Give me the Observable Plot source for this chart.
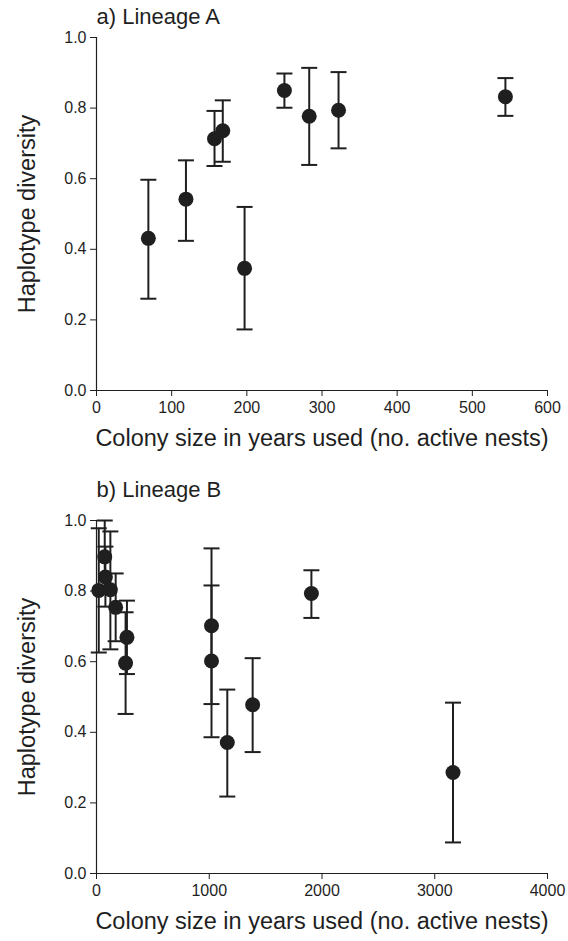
<!DOCTYPE html>
<html>
<head>
<meta charset="utf-8">
<script src="https://cdn.jsdelivr.net/npm/d3@7"></script>
<script src="https://cdn.jsdelivr.net/npm/@observablehq/plot@0.6"></script>
<style>
  html, body { margin: 0; padding: 0; background: #fff; }
  #chart { width: 568px; }
  #chart svg { display: block; }
</style>
</head>
<body>
<div id="chart"></div>
<script>
// Panel A — Lineage A
const aColony = [69, 119, 157, 168, 197, 250, 283, 322, 544];
const aHap    = [0.431, 0.542, 0.713, 0.736, 0.346, 0.850, 0.777, 0.794, 0.832];
const aLow    = [0.260, 0.424, 0.636, 0.648, 0.173, 0.801, 0.639, 0.686, 0.778];
const aHigh   = [0.597, 0.652, 0.792, 0.822, 0.520, 0.898, 0.914, 0.902, 0.885];

// Panel B — Lineage B
const bColony = [20, 73, 79, 123, 170, 270, 258, 1020, 1020, 1160, 1385, 1906, 3162];
const bHap    = [0.802, 0.897, 0.840, 0.804, 0.754, 0.669, 0.596, 0.702, 0.602, 0.371, 0.478, 0.793, 0.286];
const bLow    = [0.626, 0.794, 0.756, 0.635, 0.658, 0.565, 0.452, 0.480, 0.386, 0.218, 0.344, 0.724, 0.088];
const bHigh   = [0.978, 1.000, 0.926, 0.969, 0.850, 0.773, 0.740, 0.921, 0.816, 0.521, 0.610, 0.859, 0.484];

const aTicksX = [0, 100, 200, 300, 400, 500, 600];
const bTicksX = [0, 1000, 2000, 3000, 4000];
const yTicks = [0, 0.2, 0.4, 0.6, 0.8, 1.0];

const yLabel = "Haplotype diversity";
const xLabel = "Colony size in years used (no. active nests)";

const ink = "#1f1f1f";
const font = "'Liberation Sans', Arial, Helvetica, sans-serif";

// horizontal cap symbol for error bars
const capSymbol = {
  draw(ctx, size) {
    const w = Math.sqrt(size / Math.PI);
    ctx.moveTo(-w, 0);
    ctx.lineTo(w, 0);
  }
};

function panel({colony, hap, low, high, xMax, xTicks, title, titleDy, marginTop, height}) {
  const rows = colony.map((c, i) => ({c, h: hap[i], lo: low[i], hi: high[i]}));
  return Plot.plot({
    width: 568,
    height,
    marginTop,
    marginLeft: 96,
    marginRight: 21,
    marginBottom: height - marginTop - 353,
    style: {fontFamily: font, fontSize: "16px", color: ink, background: "#fff"},
    x: {domain: [0, xMax], ticks: xTicks, tickFormat: d3.format("d")},
    y: {domain: [0, 1], ticks: yTicks, tickFormat: d3.format(".1f")},
    marks: [
      Plot.axisX({ticks: xTicks, tickFormat: d3.format("d"), tickSize: 6, tickPadding: 5, label: null, fontSize: 16}),
      Plot.axisY({ticks: yTicks, tickFormat: d3.format(".1f"), tickSize: 6, tickPadding: 4, label: null, fontSize: 16}),
      Plot.ruleX([0], {stroke: ink, strokeWidth: 1.2}),
      Plot.ruleY([0], {stroke: ink, strokeWidth: 1.2}),
      Plot.ruleX(rows, {x: "c", y1: "lo", y2: "hi", stroke: ink, strokeWidth: 2}),
      Plot.dot(rows, {x: "c", y: "lo", symbol: capSymbol, r: 8, stroke: ink, strokeWidth: 2}),
      Plot.dot(rows, {x: "c", y: "hi", symbol: capSymbol, r: 8, stroke: ink, strokeWidth: 2}),
      Plot.dot(rows, {x: "c", y: "h", r: 7.5, fill: ink, stroke: "none"}),
      Plot.text([title], {frameAnchor: "top-left", dx: 0, dy: titleDy, lineAnchor: "middle", text: d => d, textAnchor: "start", fontSize: 22, fill: ink}),
      Plot.text([xLabel], {frameAnchor: "bottom", dy: 48, lineAnchor: "middle", textAnchor: "middle", text: d => d, fontSize: 23.5, fill: ink}),
      Plot.text([yLabel], {frameAnchor: "left", dx: -69, rotate: -90, lineAnchor: "middle", textAnchor: "middle", text: d => d, fontSize: 23.5, fill: ink})
    ]
  });
}

const chart = document.getElementById("chart");
chart.append(panel({
  colony: aColony, hap: aHap, low: aLow, high: aHigh,
  xMax: 600, xTicks: aTicksX, title: "a) Lineage A", titleDy: -21,
  marginTop: 37, height: 451
}));
chart.append(panel({
  colony: bColony, hap: bHap, low: bLow, high: bHigh,
  xMax: 4000, xTicks: bTicksX, title: "b) Lineage B", titleDy: -31,
  marginTop: 69, height: 490
}));
</script>
</body>
</html>
